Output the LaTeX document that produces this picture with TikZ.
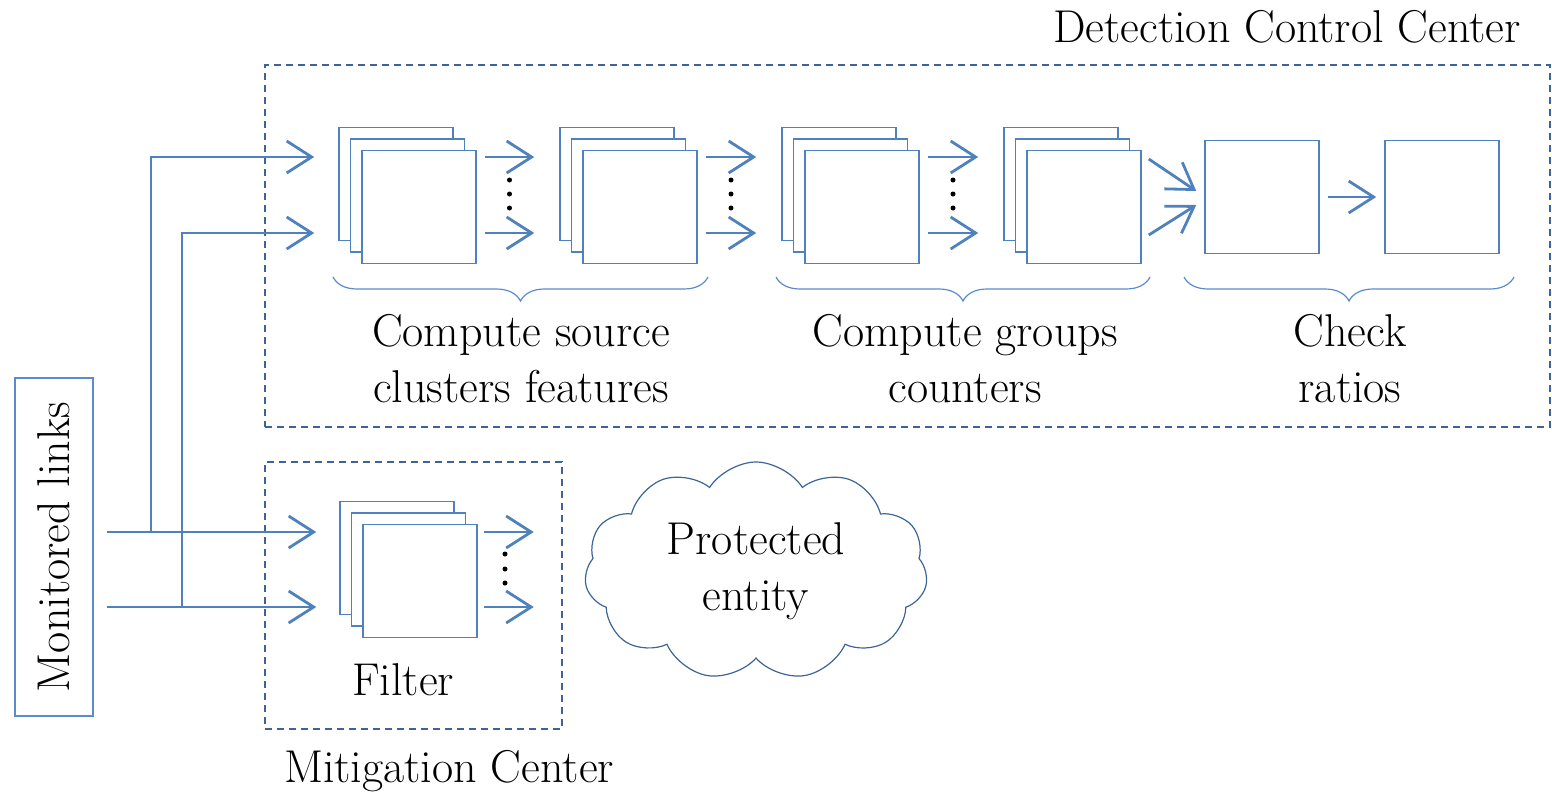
\documentclass[tikz,border=0pt]{standalone}
\usepackage{fontspec}
\usepackage{tikz}
\usetikzlibrary{arrows.meta,calc,positioning,shadows,shapes.symbols,decorations.pathreplacing}
\definecolor{mblue}{RGB}{79,129,189}
\definecolor{dblue}{RGB}{60,100,150}
\definecolor{lblue}{RGB}{90,140,205}
\tikzset{
    flow/.style={line width=2.8pt, mblue, -{Straight Barb[length=25pt,width=32pt]}},
    stack/.style={draw=mblue, line width=1.5pt, fill=white,
        minimum width=114pt, minimum height=113pt, inner sep=0pt,
        double copy shadow={shadow xshift=-11.5pt, shadow yshift=11.5pt}},
    stage/.style={draw=mblue, line width=1.5pt, fill=white,
        minimum width=114pt, minimum height=113pt, inner sep=0pt},
    zone/.style={draw=dblue, line width=1.6pt, dash pattern=on 7pt off 5pt, inner sep=0pt},
    brace/.style={decorate, decoration={brace, amplitude=24pt, mirror}, draw=lblue, line width=1.2pt},
    caption/.style={align=center}
}
\begin{document}
\begin{tikzpicture}[x=1pt, y=-1pt, every node/.style={font=\fontsize{46}{56}\selectfont}]
    \useasboundingbox (0,0) rectangle (1552,796);
    % Detection and mitigation zones
    \node[zone, minimum width=1285pt, minimum height=362pt] (dcc) at (907.5,246) {};
    \node[zone, minimum width=297pt, minimum height=267pt] (mc) at (413.5,595.5) {};
    \node (dcctitle) at (1287,27) {Detection Control Center};
    \node (mctitle) at (449,771) {Mitigation Center};
    % Processing stages
    \node[stack] (src1) at (419,207) {};
    \node[stack] (src2) at (640,207) {};
    \node[stack] (grp1) at (862,207) {};
    \node[stack] (grp2) at (1084,207) {};
    \node[stage] (chk1) at (1262,197) {};
    \node[stage] (chk2) at (1442,197) {};
    \node[stack] (filt) at (420,581) {};
    \node (filttext) at (403,680) {Filter};
    \node[cloud, cloud puffs=11, cloud puff arc=115, aspect=1.6, draw=dblue, line width=1.2pt,
          minimum width=343pt, minimum height=218pt, align=center, inner sep=0pt]
         (entity) at (756,571) {Protected\\entity};
    % Monitored links
    \node[draw=lblue, line width=1.5pt, rotate=90, minimum width=338pt, minimum height=78pt, inner sep=0pt]
         (links) at (54,547) {Monitored links};
    \coordinate (in1) at (107,532);
    \coordinate (in2) at (107,607);
    \draw[flow] (in1) -- ([xshift=-46pt]filt.west |- in1);
    \draw[flow] (in2) -- ([xshift=-46pt]filt.west |- in2);
    \draw[flow] (in1 -| 151,0) |- ([xshift=-47pt]src1.west |- 0,157);
    \draw[flow] (in2 -| 182,0) |- ([xshift=-47pt]src1.west |- 0,233);
    % Arrows between stacks
    \foreach \a/\b in {src1/src2, src2/grp1, grp1/grp2} {
        \draw[flow] ([xshift=8pt]\a.east |- 0,157) -- ([xshift=-48pt]\b.west |- 0,157);
        \draw[flow] ([xshift=8pt]\a.east |- 0,233) -- ([xshift=-48pt]\b.west |- 0,233);
        \coordinate (m) at ($([xshift=8pt]\a.east)!0.5!([xshift=-48pt]\b.west)$);
        \foreach \y in {180,194,208}
            \fill (m |- 0,\y) circle (2.5pt);
    }
    \draw[flow] ([shift={(7,-48)}]grp2.east) -- ([shift={(-8,-6)}]chk1.west);
    \draw[flow] ([shift={(7,28)}]grp2.east) -- ([shift={(-8,8)}]chk1.west);
    \draw[flow] ([xshift=8pt]chk1.east) -- ([xshift=-8pt]chk2.west);
    % Filter outputs
    \draw[flow] ([xshift=6pt]filt.east |- in1) -- ++(50,0);
    \draw[flow] ([xshift=6pt]filt.east |- in2) -- ++(50,0);
    \foreach \y in {554,569,583}
        \fill (505,\y) circle (2.5pt);
    % Braces and captions
    \draw[brace] (333,277) -- (708,277);
    \draw[brace] (776,277) -- (1150,277);
    \draw[brace] (1184,277) -- (1514,277);
    \node[caption] (cap1) at (521,359) {Compute source\\clusters features};
    \node[caption] (cap2) at (965,359) {Compute groups\\counters};
    \node[caption] (cap3) at (1350,359) {Check\\ratios};
\end{tikzpicture}
\end{document}
